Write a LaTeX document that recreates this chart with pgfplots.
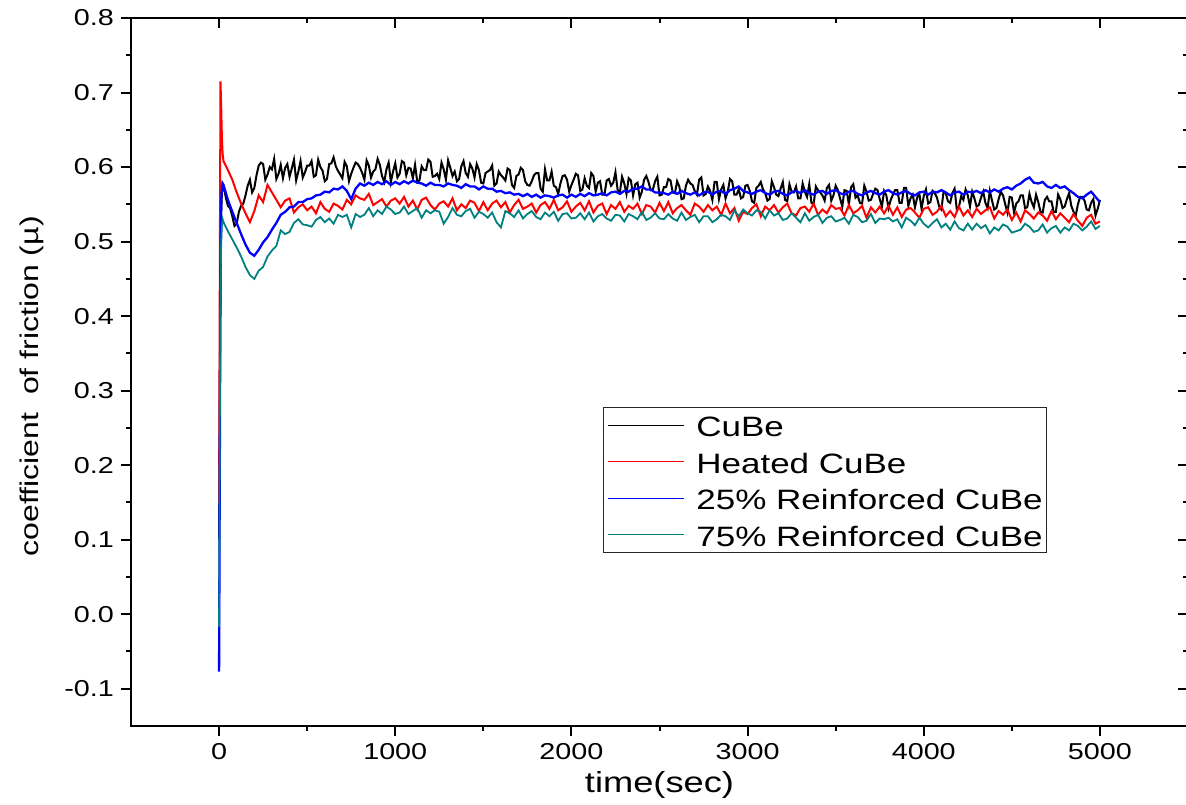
\documentclass[border=0pt]{standalone}
\usepackage{fontspec}
\setmainfont{Liberation Sans}[FakeStretch=1.25]
\usepackage{pgfplots}
\usepackage{pgfplotstable}
\pgfplotsset{compat=1.18}
\definecolor{tealc}{RGB}{0,128,128}

% CuBe: time (s), coefficient of friction
\pgfplotstableread[row sep=\\]{
t mu\\
0 0.100\\ 4 0.300\\ 8 0.470\\ 12 0.540\\ 16 0.565\\ 20 0.578\\ 25 0.576\\ 37.5 0.560\\
50 0.548\\ 62.5 0.545\\ 75 0.534\\ 87.5 0.521\\ 100 0.524\\ 112.5 0.540\\ 125 0.548\\ 137.5 0.551\\
150 0.562\\ 162.5 0.575\\ 175 0.583\\ 187.5 0.566\\ 200 0.572\\ 212.5 0.589\\ 225 0.602\\ 237.5 0.606\\
250 0.604\\ 262.5 0.583\\ 275 0.590\\ 287.5 0.600\\ 300 0.597\\ 312.5 0.611\\ 325 0.584\\ 337.5 0.591\\
350 0.603\\ 362.5 0.585\\ 375 0.599\\ 387.5 0.604\\ 400 0.587\\ 412.5 0.598\\ 425 0.610\\ 437.5 0.582\\
450 0.594\\ 462.5 0.608\\ 475 0.586\\ 487.5 0.593\\ 500 0.602\\ 512.5 0.602\\ 525 0.608\\ 537.5 0.587\\
550 0.589\\ 562.5 0.610\\ 575 0.600\\ 587.5 0.595\\ 600 0.581\\ 612.5 0.584\\ 625 0.604\\ 637.5 0.605\\
650 0.613\\ 662.5 0.601\\ 675 0.595\\ 687.5 0.590\\ 700 0.585\\ 712.5 0.607\\ 725 0.601\\ 737.5 0.581\\
750 0.591\\ 762.5 0.599\\ 775 0.606\\ 787.5 0.604\\ 800 0.599\\ 812.5 0.592\\ 825 0.583\\ 837.5 0.609\\
850 0.602\\ 862.5 0.586\\ 875 0.594\\ 887.5 0.597\\ 900 0.611\\ 912.5 0.603\\ 925 0.588\\ 937.5 0.580\\
950 0.597\\ 962.5 0.606\\ 975 0.580\\ 987.5 0.594\\ 1000 0.605\\ 1012.5 0.586\\ 1025 0.591\\ 1037.5 0.608\\
1050 0.606\\ 1062.5 0.589\\ 1075 0.599\\ 1087.5 0.598\\ 1100 0.585\\ 1112.5 0.603\\ 1125 0.580\\ 1137.5 0.582\\
1150 0.601\\ 1162.5 0.596\\ 1175 0.596\\ 1187.5 0.610\\ 1200 0.607\\ 1212.5 0.587\\ 1225 0.588\\ 1237.5 0.591\\
1250 0.584\\ 1262.5 0.606\\ 1275 0.597\\ 1287.5 0.583\\ 1300 0.609\\ 1312.5 0.599\\ 1325 0.588\\ 1337.5 0.594\\
1350 0.581\\ 1362.5 0.584\\ 1375 0.601\\ 1387.5 0.608\\ 1400 0.592\\ 1412.5 0.587\\ 1425 0.604\\ 1437.5 0.598\\
1450 0.586\\ 1462.5 0.604\\ 1475 0.596\\ 1487.5 0.579\\ 1500 0.578\\ 1512.5 0.592\\ 1525 0.594\\ 1537.5 0.596\\
1550 0.602\\ 1562.5 0.575\\ 1575 0.578\\ 1587.5 0.594\\ 1600 0.589\\ 1612.5 0.586\\ 1625 0.582\\ 1637.5 0.598\\
1650 0.596\\ 1662.5 0.576\\ 1675 0.572\\ 1687.5 0.588\\ 1700 0.590\\ 1712.5 0.599\\ 1725 0.596\\ 1737.5 0.581\\
1750 0.576\\ 1762.5 0.575\\ 1775 0.581\\ 1787.5 0.589\\ 1800 0.592\\ 1812.5 0.592\\ 1825 0.571\\ 1837.5 0.567\\
1850 0.597\\ 1862.5 0.582\\ 1875 0.582\\ 1887.5 0.594\\ 1900 0.575\\ 1912.5 0.573\\ 1925 0.564\\ 1937.5 0.578\\
1950 0.588\\ 1962.5 0.589\\ 1975 0.583\\ 1987.5 0.567\\ 2000 0.576\\ 2012.5 0.583\\ 2025 0.591\\ 2037.5 0.589\\
2050 0.568\\ 2062.5 0.570\\ 2075 0.585\\ 2087.5 0.575\\ 2100 0.572\\ 2112.5 0.592\\ 2125 0.588\\ 2137.5 0.567\\
2150 0.579\\ 2162.5 0.581\\ 2175 0.563\\ 2187.5 0.563\\ 2200 0.582\\ 2212.5 0.584\\ 2225 0.575\\ 2237.5 0.579\\
2250 0.593\\ 2262.5 0.569\\ 2275 0.566\\ 2287.5 0.587\\ 2300 0.578\\ 2312.5 0.564\\ 2325 0.585\\ 2337.5 0.582\\
2350 0.562\\ 2362.5 0.577\\ 2375 0.579\\ 2387.5 0.559\\ 2400 0.567\\ 2412.5 0.583\\ 2425 0.588\\ 2437.5 0.580\\
2450 0.569\\ 2462.5 0.570\\ 2475 0.581\\ 2487.5 0.587\\ 2500 0.562\\ 2512.5 0.563\\ 2525 0.573\\ 2537.5 0.573\\
2550 0.584\\ 2562.5 0.582\\ 2575 0.566\\ 2587.5 0.565\\ 2600 0.581\\ 2612.5 0.574\\ 2625 0.557\\ 2637.5 0.558\\
2650 0.575\\ 2662.5 0.583\\ 2675 0.578\\ 2687.5 0.576\\ 2700 0.568\\ 2712.5 0.563\\ 2725 0.583\\ 2737.5 0.586\\
2750 0.562\\ 2762.5 0.564\\ 2775 0.574\\ 2787.5 0.568\\ 2800 0.556\\ 2812.5 0.580\\ 2825 0.580\\ 2837.5 0.557\\
2850 0.570\\ 2862.5 0.576\\ 2875 0.558\\ 2887.5 0.567\\ 2900 0.584\\ 2912.5 0.581\\ 2925 0.563\\ 2937.5 0.563\\
2950 0.570\\ 2962.5 0.558\\ 2975 0.560\\ 2987.5 0.575\\ 3000 0.576\\ 3012.5 0.568\\ 3025 0.554\\ 3037.5 0.552\\
3050 0.572\\ 3062.5 0.575\\ 3075 0.580\\ 3087.5 0.570\\ 3100 0.565\\ 3112.5 0.555\\ 3125 0.557\\ 3137.5 0.581\\
3150 0.573\\ 3162.5 0.563\\ 3175 0.561\\ 3187.5 0.571\\ 3200 0.580\\ 3212.5 0.556\\ 3225 0.554\\ 3237.5 0.577\\
3250 0.567\\ 3262.5 0.566\\ 3275 0.574\\ 3287.5 0.558\\ 3300 0.558\\ 3312.5 0.578\\ 3325 0.567\\ 3337.5 0.560\\
3350 0.577\\ 3362.5 0.552\\ 3375 0.550\\ 3387.5 0.574\\ 3400 0.569\\ 3412.5 0.566\\ 3425 0.562\\ 3437.5 0.555\\
3450 0.572\\ 3462.5 0.576\\ 3475 0.555\\ 3487.5 0.562\\ 3500 0.575\\ 3512.5 0.569\\ 3525 0.558\\ 3537.5 0.547\\
3550 0.569\\ 3562.5 0.568\\ 3575 0.550\\ 3587.5 0.573\\ 3600 0.577\\ 3612.5 0.559\\ 3625 0.562\\ 3637.5 0.552\\
3650 0.551\\ 3662.5 0.575\\ 3675 0.567\\ 3687.5 0.555\\ 3700 0.556\\ 3712.5 0.564\\ 3725 0.571\\ 3737.5 0.569\\
3750 0.557\\ 3762.5 0.547\\ 3775 0.568\\ 3787.5 0.562\\ 3800 0.545\\ 3812.5 0.556\\ 3825 0.563\\ 3837.5 0.569\\
3850 0.569\\ 3862.5 0.552\\ 3875 0.552\\ 3887.5 0.572\\ 3900 0.572\\ 3912.5 0.548\\ 3925 0.558\\ 3937.5 0.563\\
3950 0.546\\ 3962.5 0.559\\ 3975 0.564\\ 3987.5 0.544\\ 4000 0.561\\ 4012.5 0.570\\ 4025 0.551\\ 4037.5 0.553\\
4050 0.568\\ 4062.5 0.565\\ 4075 0.559\\ 4087.5 0.547\\ 4100 0.543\\ 4112.5 0.567\\ 4125 0.565\\ 4137.5 0.554\\
4150 0.552\\ 4162.5 0.565\\ 4175 0.571\\ 4187.5 0.543\\ 4200 0.547\\ 4212.5 0.561\\ 4225 0.556\\ 4237.5 0.570\\
4250 0.562\\ 4262.5 0.547\\ 4275 0.567\\ 4287.5 0.558\\ 4300 0.547\\ 4312.5 0.549\\ 4325 0.559\\ 4337.5 0.567\\
4350 0.552\\ 4362.5 0.545\\ 4375 0.568\\ 4387.5 0.555\\ 4400 0.543\\ 4412.5 0.545\\ 4425 0.557\\ 4437.5 0.567\\
4450 0.562\\ 4462.5 0.550\\ 4475 0.539\\ 4487.5 0.560\\ 4500 0.559\\ 4512.5 0.539\\ 4525 0.551\\ 4537.5 0.554\\
4550 0.562\\ 4562.5 0.562\\ 4575 0.545\\ 4587.5 0.546\\ 4600 0.564\\ 4612.5 0.553\\ 4625 0.546\\ 4637.5 0.563\\
4650 0.553\\ 4662.5 0.540\\ 4675 0.539\\ 4687.5 0.556\\ 4700 0.560\\ 4712.5 0.554\\ 4725 0.554\\ 4737.5 0.540\\
4750 0.540\\ 4762.5 0.563\\ 4775 0.557\\ 4787.5 0.545\\ 4800 0.547\\ 4812.5 0.557\\ 4825 0.565\\ 4837.5 0.548\\
4850 0.540\\ 4862.5 0.535\\ 4875 0.550\\ 4887.5 0.560\\ 4900 0.560\\ 4912.5 0.555\\ 4925 0.543\\ 4937.5 0.542\\
4950 0.552\\ 4962.5 0.557\\ 4975 0.535\\ 4987.5 0.544\\ 5000 0.556\\
}\cubedata

% time (s), heated CuBe, 25% and 75% reinforced CuBe
\pgfplotstableread{
t heated rtwofive rsevenfive
0 0.150 -0.077 -0.017
4 0.450 0.200 0.250
8 0.715 0.450 0.440
12 0.680 0.555 0.500
16 0.640 0.572 0.522
20 0.618 0.578 0.530
25 0.608 0.576 0.526
50 0.596 0.556 0.514
75 0.583 0.540 0.503
100 0.566 0.525 0.492
125 0.551 0.510 0.480
150 0.538 0.496 0.466
175 0.526 0.485 0.455
200 0.541 0.481 0.450
225 0.562 0.489 0.461
250 0.553 0.499 0.466
275 0.576 0.506 0.480
300 0.566 0.516 0.488
325 0.556 0.525 0.494
350 0.546 0.536 0.515
375 0.555 0.540 0.510
400 0.558 0.546 0.513
425 0.539 0.547 0.525
450 0.546 0.553 0.530
475 0.550 0.553 0.523
500 0.542 0.557 0.522
525 0.547 0.558 0.520
550 0.538 0.562 0.529
575 0.553 0.563 0.533
600 0.544 0.567 0.526
625 0.540 0.566 0.531
650 0.551 0.571 0.524
675 0.548 0.570 0.536
700 0.543 0.574 0.533
725 0.556 0.568 0.536
750 0.550 0.557 0.519
775 0.562 0.571 0.537
800 0.558 0.578 0.533
825 0.556 0.575 0.536
850 0.564 0.579 0.545
875 0.549 0.576 0.534
900 0.553 0.580 0.542
925 0.557 0.577 0.537
950 0.547 0.581 0.547
975 0.555 0.576 0.543
1000 0.558 0.580 0.537
1025 0.551 0.577 0.539
1050 0.560 0.581 0.547
1075 0.547 0.578 0.537
1100 0.555 0.582 0.541
1125 0.543 0.579 0.545
1150 0.556 0.578 0.532
1175 0.559 0.575 0.542
1200 0.549 0.579 0.538
1225 0.543 0.576 0.542
1250 0.551 0.576 0.540
1275 0.554 0.574 0.524
1300 0.547 0.578 0.533
1325 0.558 0.576 0.545
1350 0.542 0.575 0.536
1375 0.550 0.572 0.534
1400 0.545 0.577 0.541
1425 0.555 0.574 0.544
1450 0.552 0.574 0.532
1475 0.541 0.570 0.540
1500 0.553 0.574 0.537
1525 0.542 0.571 0.532
1550 0.551 0.571 0.539
1575 0.555 0.567 0.526
1600 0.546 0.568 0.519
1625 0.553 0.565 0.541
1650 0.539 0.566 0.538
1675 0.549 0.563 0.533
1700 0.556 0.564 0.542
1725 0.544 0.561 0.531
1750 0.547 0.564 0.537
1775 0.551 0.560 0.541
1800 0.539 0.563 0.533
1825 0.549 0.559 0.530
1850 0.553 0.562 0.539
1875 0.544 0.561 0.534
1900 0.556 0.559 0.540
1925 0.542 0.562 0.528
1950 0.546 0.563 0.537
1975 0.554 0.559 0.538
2000 0.540 0.563 0.531
2025 0.547 0.560 0.532
2050 0.552 0.564 0.538
2075 0.542 0.561 0.530
2100 0.554 0.565 0.539
2125 0.539 0.562 0.527
2150 0.548 0.563 0.534
2175 0.551 0.565 0.537
2200 0.537 0.562 0.531
2225 0.549 0.566 0.528
2250 0.544 0.567 0.536
2275 0.553 0.564 0.535
2300 0.540 0.568 0.527
2325 0.548 0.567 0.537
2350 0.544 0.571 0.534
2375 0.551 0.571 0.530
2400 0.537 0.574 0.540
2425 0.549 0.570 0.529
2450 0.547 0.570 0.532
2475 0.539 0.566 0.538
2500 0.552 0.566 0.531
2525 0.541 0.565 0.530
2550 0.553 0.563 0.537
2575 0.538 0.567 0.531
2600 0.545 0.564 0.528
2625 0.549 0.568 0.539
2650 0.542 0.565 0.529
2675 0.536 0.563 0.533
2700 0.551 0.566 0.536
2725 0.547 0.562 0.526
2750 0.540 0.566 0.534
2775 0.549 0.567 0.534
2800 0.542 0.563 0.526
2825 0.547 0.567 0.530
2850 0.536 0.568 0.536
2875 0.551 0.564 0.534
2900 0.538 0.569 0.529
2925 0.545 0.571 0.542
2950 0.528 0.574 0.534
2975 0.540 0.568 0.543
3000 0.537 0.566 0.538
3025 0.545 0.564 0.535
3050 0.550 0.567 0.542
3075 0.534 0.569 0.540
3100 0.547 0.565 0.531
3125 0.542 0.563 0.542
3150 0.549 0.567 0.535
3175 0.539 0.568 0.538
3200 0.546 0.564 0.529
3225 0.551 0.562 0.531
3250 0.538 0.566 0.538
3275 0.535 0.568 0.532
3300 0.545 0.565 0.526
3325 0.547 0.569 0.538
3350 0.540 0.565 0.528
3375 0.551 0.563 0.533
3400 0.536 0.567 0.536
3425 0.543 0.568 0.525
3450 0.538 0.564 0.532
3475 0.549 0.568 0.534
3500 0.544 0.569 0.527
3525 0.545 0.565 0.529
3550 0.535 0.563 0.532
3575 0.549 0.567 0.524
3600 0.538 0.568 0.536
3625 0.542 0.564 0.533
3650 0.548 0.562 0.526
3675 0.532 0.566 0.528
3700 0.546 0.568 0.537
3725 0.539 0.565 0.525
3750 0.547 0.563 0.531
3775 0.538 0.567 0.530
3800 0.548 0.569 0.532
3825 0.536 0.565 0.527
3850 0.546 0.563 0.530
3875 0.533 0.566 0.519
3900 0.543 0.568 0.532
3925 0.545 0.564 0.528
3950 0.539 0.562 0.522
3975 0.532 0.566 0.532
4000 0.544 0.567 0.524
4025 0.546 0.563 0.519
4050 0.536 0.567 0.525
4075 0.540 0.566 0.530
4100 0.548 0.569 0.519
4125 0.534 0.566 0.524
4150 0.541 0.562 0.516
4175 0.533 0.566 0.527
4200 0.547 0.567 0.518
4225 0.535 0.563 0.515
4250 0.542 0.567 0.524
4275 0.533 0.566 0.516
4300 0.544 0.568 0.524
4325 0.537 0.565 0.518
4350 0.542 0.569 0.522
4375 0.546 0.566 0.511
4400 0.531 0.570 0.519
4425 0.541 0.567 0.515
4450 0.536 0.571 0.523
4475 0.543 0.573 0.520
4500 0.529 0.570 0.512
4525 0.539 0.575 0.514
4550 0.527 0.578 0.516
4575 0.542 0.583 0.524
4600 0.537 0.586 0.520
4625 0.531 0.579 0.513
4650 0.539 0.578 0.515
4675 0.535 0.580 0.523
4700 0.528 0.574 0.512
4725 0.541 0.572 0.518
4750 0.530 0.576 0.521
4775 0.538 0.572 0.512
4800 0.532 0.574 0.519
4825 0.526 0.569 0.515
4850 0.537 0.565 0.524
4875 0.528 0.560 0.521
4900 0.521 0.558 0.515
4925 0.532 0.563 0.520
4950 0.536 0.567 0.527
4975 0.524 0.560 0.517
5000 0.527 0.553 0.521
}\frictiondata

\pgfplotsset{
  frame/.style={
    scale only axis, width=528.5pt, height=354pt,
    xmin=-500, xmax=5500, ymin=-0.15, ymax=0.8,
    xtick={0,1000,2000,3000,4000,5000},
    ytick={-0.1,0,0.1,0.2,0.3,0.4,0.5,0.6,0.7,0.8},
    minor x tick num=1, minor y tick num=1,
    axis line style={line width=1pt},
    every tick/.style={black, line width=1pt},
    major tick length=5pt, minor tick length=2.5pt,
  }
}

\begin{document}
\begin{tikzpicture}
\begin{axis}[frame, name=ax,
  tick align=outside, xtick pos=bottom, ytick pos=left,
  /pgf/number format/assume math mode=true,
  xticklabel style={font=\fontsize{11.5}{13}\selectfont, /pgf/number format/1000 sep={}},
  yticklabel style={font=\fontsize{11.5}{13}\selectfont,
    /pgf/number format/fixed, /pgf/number format/fixed zerofill,
    /pgf/number format/precision=1},
  xlabel={time(sec)}, ylabel={coefficient\ \ of friction (\textmu)},
  xlabel style={font=\fontsize{14.5}{16}\selectfont, at={(axis description cs:0.5,0)}, anchor=center, yshift=-29.5pt},
  ylabel style={font=\fontsize{12.8}{15}\selectfont, at={(axis description cs:-0.094,0.48)}, anchor=center},
  legend style={at={(0.4465,0.4506)}, anchor=north west, draw=black!85, line width=0.5pt,
    font=\fontsize{14}{16}\selectfont, inner sep=2pt, column sep=6pt, row sep=4.8pt,
    nodes={inner sep=0pt, text height=12.5pt, text depth=1pt}},
  legend cell align=left,
  legend image code/.code={\draw[#1, line width=0.45pt] (0pt,0pt) -- (38pt,0pt);},
]
\addplot[black, line width=1pt] table[x=t, y=mu] {\cubedata};
\addlegendentry{CuBe}
\addplot[red, line width=1pt] table[x=t, y=heated] {\frictiondata};
\addlegendentry{Heated CuBe}
\addplot[blue, line width=1.15pt] table[x=t, y=rtwofive] {\frictiondata};
\addlegendentry{25\% Reinforced CuBe}
\addplot[tealc, line width=0.9pt] table[x=t, y=rsevenfive] {\frictiondata};
\addlegendentry{75\% Reinforced CuBe}
\end{axis}
\begin{axis}[frame, tick align=inside, xtick pos=top, ytick pos=right,
  xticklabels={}, yticklabels={}]
\end{axis}
\pgfresetboundingbox
\path[use as bounding box] ([xshift=-65.5pt, yshift=-39pt]ax.south west) rectangle ([xshift=527.5pt, yshift=363pt]ax.south west);
\end{tikzpicture}
\end{document}
